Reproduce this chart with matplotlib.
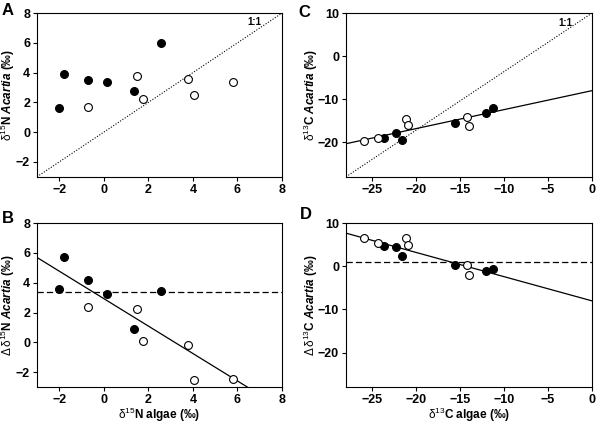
import matplotlib
matplotlib.use('Agg')
import matplotlib.pyplot as plt
import numpy as np

plt.rcParams['font.family'] = ['Liberation Sans', 'DejaVu Sans']
plt.rcParams['mathtext.fontset'] = 'custom'
plt.rcParams['mathtext.rm'] = 'Liberation Sans'
plt.rcParams['mathtext.it'] = 'Liberation Sans:italic'
plt.rcParams['mathtext.bf'] = 'Liberation Sans:bold'
plt.rcParams['mathtext.bfit'] = 'Liberation Sans:italic:bold'

# nitrogen: algae vs Acartia
n_algae_closed = [-2.0, -1.8, -0.7, 0.15, 1.35, 2.55]
n_acartia_closed = [1.6, 3.9, 3.5, 3.4, 2.8, 6.0]
n_algae_open = [-0.7, 1.5, 1.75, 3.8, 4.05, 5.8]
n_acartia_open = [1.7, 3.75, 2.2, 3.6, 2.5, 3.4]
n_delta_closed = [3.6, 5.7, 4.2, 3.25, 0.9, 3.45]
n_delta_open = [2.4, 2.25, 0.1, -0.2, -2.5, -2.45]
n_fit = (-0.92, 2.94)      # slope, intercept of panel B line
n_mean_delta = 3.4

# carbon: algae vs Acartia
c_algae_closed = [-23.7, -22.3, -21.6, -15.6, -12.1, -11.2]
c_acartia_closed = [-19.0, -17.8, -19.4, -15.5, -13.2, -12.0]
c_algae_open = [-26.0, -24.3, -21.2, -20.9, -14.2, -14.0]
c_acartia_open = [-19.6, -19.1, -14.6, -15.9, -14.0, -16.1]
c_delta_closed = [4.8, 4.5, 2.3, 0.2, -1.1, -0.7]
c_delta_open = [6.6, 5.3, 6.6, 5.0, 0.2, -2.1]
c_fit = (0.44, -8.0)
c_delta_fit = (-0.56, -8.0)
c_mean_delta = 1.0

n_lim = (-3, 8)
n_ticks = [-2, 0, 2, 4, 6, 8]
c_xlim = (-28, 0)
c_ylim = (-28, 10)
c_xticks = [-25, -20, -15, -10, -5, 0]
c_yticks = [-20, -10, 0, 10]

MS = 32
TICK_FS = 9
LABEL_FS = 8.5
YLABEL_FS = 8.5

fig = plt.figure(figsize=(5.96, 4.25), dpi=100)
axA = fig.add_axes([0.062, 0.584, 0.411, 0.385])
axB = fig.add_axes([0.062, 0.089, 0.411, 0.386])
axC = fig.add_axes([0.5805, 0.584, 0.4125, 0.385])
axD = fig.add_axes([0.5805, 0.089, 0.4125, 0.386])


def style(ax, xlim, ylim, xticks, yticks):
    ax.set_xlim(*xlim)
    ax.set_ylim(*ylim)
    ax.set_xticks(xticks)
    ax.set_yticks(yticks)
    ax.tick_params(direction='out', length=3, width=0.8, labelsize=TICK_FS, pad=2)
    for lab in ax.get_xticklabels() + ax.get_yticklabels():
        lab.set_fontweight('bold')
    for sp in ax.spines.values():
        sp.set_linewidth(0.8)


def ylabel(ax, text, xpix):
    ax.set_ylabel(text, fontsize=YLABEL_FS, fontweight='bold')
    # right edge of the rotated label, in axes fraction
    ax.yaxis.set_label_coords(xpix / 245.0, 0.5)


def points(ax, xc, yc, xo, yo):
    ax.scatter(xc, yc, s=MS, c='black', edgecolors='black', linewidths=0.8, zorder=3)
    ax.scatter(xo, yo, s=MS, c='white', edgecolors='black', linewidths=0.8, zorder=3)


def fit_line(ax, fit, xlim):
    xs = np.array(xlim, dtype=float)
    ax.plot(xs, fit[0] * xs + fit[1], color='black', linewidth=0.9, zorder=2)


# A
style(axA, n_lim, n_lim, n_ticks, n_ticks)
axA.plot(n_lim, n_lim, color='black', linestyle=(0, (1, 1.5)), linewidth=0.8)
points(axA, n_algae_closed, n_acartia_closed, n_algae_open, n_acartia_open)
axA.text(7.1, 7.75, '1:1', fontsize=7, fontweight='bold', ha='right', va='top')
ylabel(axA, r'$\mathrm{\delta}^{15}$N $\mathbfit{Acartia}$ (‰)', -20)

# B
style(axB, n_lim, n_lim, n_ticks, n_ticks)
axB.axhline(n_mean_delta, color='black', linestyle=(0, (5, 2.5)), linewidth=0.9)
fit_line(axB, n_fit, n_lim)
points(axB, n_algae_closed, n_delta_closed, n_algae_open, n_delta_open)
ylabel(axB, r'$\mathrm{\Delta\,\delta}^{15}$N $\mathbfit{Acartia}$ (‰)', -20)
axB.set_xlabel(r'$\mathrm{\delta}^{15}$N algae (‰)', fontsize=LABEL_FS, fontweight='bold', labelpad=0)

# C
style(axC, c_xlim, c_ylim, c_xticks, c_yticks)
axC.plot(c_xlim, c_ylim, color='black', linestyle=(0, (1, 1.5)), linewidth=0.8)
fit_line(axC, c_fit, c_xlim)
points(axC, c_algae_closed, c_acartia_closed, c_algae_open, c_acartia_open)
axC.text(-2.2, 8.8, '1:1', fontsize=7, fontweight='bold', ha='right', va='top')
ylabel(axC, r'$\mathrm{\delta}^{13}$C $\mathbfit{Acartia}$ (‰)', -26)

# D
style(axD, c_xlim, c_ylim, c_xticks, c_yticks)
axD.axhline(c_mean_delta, color='black', linestyle=(0, (5, 2.5)), linewidth=0.9)
fit_line(axD, c_delta_fit, c_xlim)
points(axD, c_algae_closed, c_delta_closed, c_algae_open, c_delta_open)
ylabel(axD, r'$\mathrm{\Delta\,\delta}^{13}$C $\mathbfit{Acartia}$ (‰)', -26)
axD.set_xlabel(r'$\mathrm{\delta}^{13}$C algae (‰)', fontsize=LABEL_FS, fontweight='bold', labelpad=0)

for letter, x, y in (('A', 2, 3), ('B', 2, 211), ('C', 298, 5), ('D', 300, 207)):
    fig.text(x / 596, 1 - y / 425, letter, fontsize=12, fontweight='bold', va='top', ha='left')

fig.savefig('out.png', dpi=100)
